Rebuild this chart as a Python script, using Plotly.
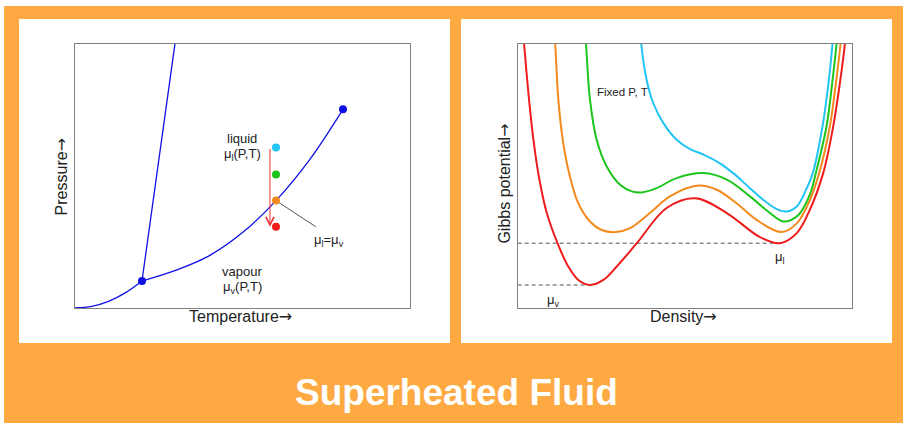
import plotly.graph_objects as go

W, H = 903, 423

# ---------------- Left panel: P-T phase diagram (normalised units) ----------------
sub_T = [0.0, 0.05, 0.10, 0.15, 0.20]
sub_P = [0.0, 0.006, 0.025, 0.057, 0.102]
vap_T = [0.20, 0.30, 0.40, 0.50, 0.60, 0.70, 0.80]
vap_P = [0.102, 0.142, 0.197, 0.285, 0.406, 0.560, 0.751]
melt_T = [0.20, 0.304]
melt_P = [0.102, 1.05]
special_T = [0.20, 0.80]          # triple point, critical point
special_P = [0.102, 0.751]
state_T = [0.60, 0.60, 0.60, 0.60]
state_P = [0.607, 0.505, 0.406, 0.307]
state_colors = ["#22c4f4", "#1cc41c", "#f28a22", "#f01c1c"]
path_T = 0.582
path_P = [0.607, 0.307]           # start, end of the red arrow
leader_T = [0.60, 0.719]
leader_P = [0.406, 0.307]

# ---------------- Right panel: Gibbs potential vs density ----------------
red_rho = [0.012, 0.019, 0.032, 0.047, 0.065, 0.087, 0.119, 0.151, 0.181, 0.216, 0.256, 0.296,
           0.356, 0.445, 0.530, 0.625, 0.724, 0.784, 0.834, 0.873, 0.913, 0.943, 0.963, 0.978, 0.985]
red_G = [1.10, 1.00, 0.813, 0.636, 0.485, 0.359, 0.245, 0.157, 0.106, 0.087, 0.106, 0.157,
         0.245, 0.378, 0.415, 0.359, 0.268, 0.245, 0.283, 0.371, 0.510, 0.687, 0.851, 1.00, 1.10]

orange_rho = [0.106, 0.112, 0.1215, 0.136, 0.156, 0.181, 0.216, 0.251, 0.293, 0.336, 0.395, 0.455,
              0.540, 0.595, 0.654, 0.714, 0.789, 0.834, 0.869, 0.901, 0.933, 0.951, 0.965, 0.971]
orange_G = [1.10, 1.00, 0.788, 0.624, 0.497, 0.396, 0.327, 0.295, 0.287, 0.302, 0.359, 0.422,
            0.463, 0.447, 0.396, 0.333, 0.287, 0.320, 0.396, 0.510, 0.687, 0.851, 1.00, 1.09]

green_rho = [0.198, 0.204, 0.216, 0.236, 0.266, 0.306, 0.341, 0.371, 0.415, 0.475, 0.555, 0.625,
             0.694, 0.754, 0.794, 0.839, 0.873, 0.891, 0.923, 0.940, 0.953, 0.959]
green_G = [1.09, 1.00, 0.788, 0.636, 0.535, 0.466, 0.441, 0.437, 0.453, 0.491, 0.510, 0.485,
           0.422, 0.359, 0.327, 0.352, 0.428, 0.510, 0.687, 0.851, 1.00, 1.09]

cyan_rho = [0.364, 0.369, 0.385, 0.405, 0.435, 0.475, 0.515, 0.555, 0.595, 0.644, 0.694, 0.744,
            0.779, 0.804, 0.834, 0.864, 0.882, 0.911, 0.929, 0.941, 0.947]
cyan_G = [1.09, 1.00, 0.864, 0.775, 0.700, 0.636, 0.601, 0.580, 0.554, 0.510, 0.453, 0.399,
          0.371, 0.365, 0.384, 0.453, 0.510, 0.687, 0.851, 1.00, 1.09]

mu_l_rho = [0.0, 0.784]
mu_l_G = [0.245, 0.245]
mu_v_rho = [0.0, 0.216]
mu_v_G = [0.087, 0.087]

curve_colors = {"red": "#ee1c1c", "orange": "#f28a1e", "green": "#1cc41c", "cyan": "#22c4f4"}

FONT = "Liberation Sans, Arial, Helvetica, sans-serif"
ORANGE = "#fea941"
TXT = "#222222"
BLUE = "#1010e6"
ARROW = '<span style="font-family:DejaVu Sans">→</span>'


def px(x):
    return x / W


def py(y):
    return 1 - y / H


fig = go.Figure()

# left panel traces
fig.add_trace(go.Scatter(x=sub_T, y=sub_P, mode="lines", line=dict(color=BLUE, width=1.3, shape="spline"),
                         xaxis="x", yaxis="y", hoverinfo="skip"))
fig.add_trace(go.Scatter(x=vap_T, y=vap_P, mode="lines", line=dict(color=BLUE, width=1.3, shape="spline"),
                         xaxis="x", yaxis="y", hoverinfo="skip"))
fig.add_trace(go.Scatter(x=melt_T, y=melt_P, mode="lines", line=dict(color=BLUE, width=1.3),
                         xaxis="x", yaxis="y", hoverinfo="skip"))
fig.add_trace(go.Scatter(x=leader_T, y=leader_P, mode="lines", line=dict(color="#555555", width=1),
                         xaxis="x", yaxis="y", hoverinfo="skip"))
fig.add_trace(go.Scatter(x=special_T, y=special_P, mode="markers",
                         marker=dict(color=BLUE, size=8, line=dict(width=0)),
                         xaxis="x", yaxis="y", hoverinfo="skip"))
fig.add_trace(go.Scatter(x=state_T, y=state_P, mode="markers",
                         marker=dict(color=state_colors, size=8, line=dict(width=0)),
                         xaxis="x", yaxis="y", hoverinfo="skip"))

# right panel traces
fig.add_trace(go.Scatter(x=mu_l_rho, y=mu_l_G, mode="lines",
                         line=dict(color="#555555", width=1, dash="4px,3px"),
                         xaxis="x2", yaxis="y2", hoverinfo="skip"))
fig.add_trace(go.Scatter(x=mu_v_rho, y=mu_v_G, mode="lines",
                         line=dict(color="#555555", width=1, dash="4px,3px"),
                         xaxis="x2", yaxis="y2", hoverinfo="skip"))
for name, xs, ys in [("cyan", cyan_rho, cyan_G), ("green", green_rho, green_G),
                     ("orange", orange_rho, orange_G), ("red", red_rho, red_G)]:
    fig.add_trace(go.Scatter(x=xs, y=ys, mode="lines",
                             line=dict(color=curve_colors[name], width=2, shape="spline", smoothing=1),
                             xaxis="x2", yaxis="y2", hoverinfo="skip"))

axis_common = dict(range=[0, 1], showgrid=False, zeroline=False, showticklabels=False, ticks="",
                   showline=True, mirror=True, linecolor="#808080", linewidth=1.3, fixedrange=True)

ydom = [py(308), py(43.5)]
fig.update_layout(
    width=W, height=H, autosize=False,
    margin=dict(l=0, r=0, t=0, b=0, pad=0),
    paper_bgcolor=ORANGE, plot_bgcolor="rgba(0,0,0,0)",
    showlegend=False,
    xaxis=dict(domain=[px(75), px(410)], anchor="y", **axis_common),
    yaxis=dict(domain=ydom, anchor="x", **axis_common),
    xaxis2=dict(domain=[px(517.7), px(852.3)], anchor="y2", **axis_common),
    yaxis2=dict(domain=ydom, anchor="x2", **axis_common),
    shapes=[
        dict(type="rect", xref="paper", yref="paper", x0=0, x1=1, y0=py(6), y1=1,
             fillcolor="white", line=dict(width=0), layer="below"),
        dict(type="rect", xref="paper", yref="paper", x0=0, x1=px(4), y0=0, y1=1,
             fillcolor="white", line=dict(width=0), layer="below"),
        dict(type="rect", xref="paper", yref="paper", x0=px(19), x1=px(450), y0=py(343), y1=py(19),
             fillcolor="white", line=dict(width=0), layer="below"),
        dict(type="rect", xref="paper", yref="paper", x0=px(461), x1=px(892), y0=py(343), y1=py(19),
             fillcolor="white", line=dict(width=0), layer="below"),
    ],
)

ann = []


def text(x, y, s, size, ref=("paper", "paper"), angle=0, color=TXT, bold=False):
    ann.append(dict(x=x, y=y, xref=ref[0], yref=ref[1], text=("<b>%s</b>" % s) if bold else s,
                    showarrow=False, textangle=angle, xanchor="center", yanchor="middle",
                    font=dict(family=FONT, size=size, color=color)))


# axis titles
text(px(240), py(316.7), "Temperature" + ARROW, 16)
text(px(61.7), py(176.7), "Pressure" + ARROW, 16, angle=-90)
text(px(683.3), py(316.7), "Density" + ARROW, 16)
text(px(504.3), py(183.3), "Gibbs potential" + ARROW, 16, angle=-90)

# left labels (data coords)
text(0.499, 0.642, "liquid", 13, ref=("x", "y"))
text(0.499, 0.580, "μ<sub>l</sub>(P,T)", 13, ref=("x", "y"))
text(0.498, 0.138, "vapour", 13, ref=("x", "y"))
text(0.499, 0.078, "μ<sub>v</sub>(P,T)", 13, ref=("x", "y"))
text(0.758, 0.255, "μ<sub>l</sub>=μ<sub>v</sub>", 13, ref=("x", "y"))

# right labels
text(0.314, 0.8155, "Fixed P, T", 11.5, ref=("x2", "y2"))
text(0.783, 0.190, "μ<sub>l</sub>", 13, ref=("x2", "y2"))
text(0.108, 0.030, "μ<sub>v</sub>", 13, ref=("x2", "y2"))

# title
text(px(456), py(392), "Superheated Fluid", 37, color="white", bold=True)

# red arrow (path of decreasing pressure)
ann.append(dict(x=path_T, y=path_P[1], ax=path_T, ay=path_P[0], xref="x", yref="y",
                axref="x", ayref="y", text="", showarrow=True, arrowhead=5, arrowsize=1.6,
                arrowwidth=1, arrowcolor="#f03030"))

fig.update_layout(annotations=ann)

fig.write_html("out.html")
